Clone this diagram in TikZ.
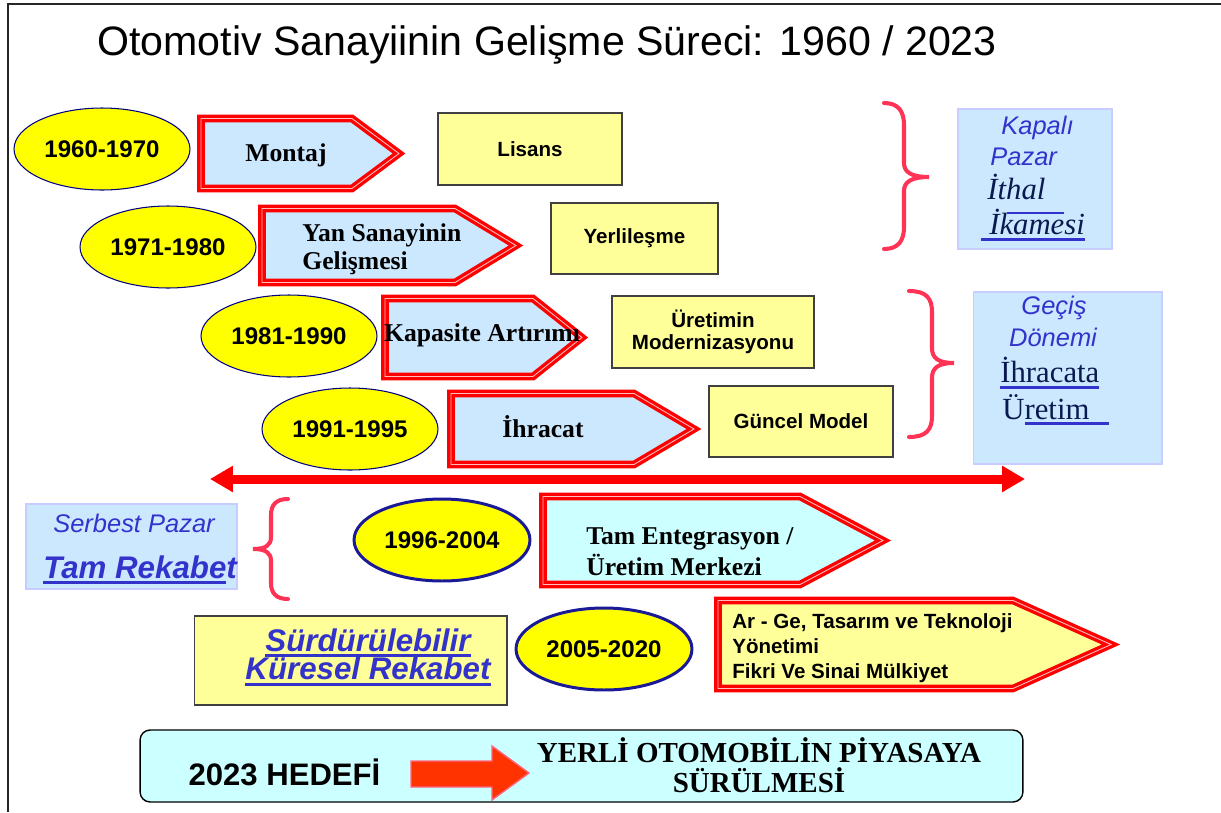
\documentclass[tikz,border=0pt]{standalone}
\usepackage{fontspec}
\setmainfont{Liberation Sans}
\newfontfamily\timesf{Liberation Serif}
\usetikzlibrary{shapes.geometric,arrows.meta}

\definecolor{boxyellow}{HTML}{FFFF99}
\definecolor{ellyellow}{HTML}{FFFF00}
\definecolor{lightblue}{HTML}{CCE8FF}
\definecolor{paleborder}{HTML}{C8CCFF}
\definecolor{cyanfill}{HTML}{CCFFFF}
\definecolor{navyline}{HTML}{000080}
\definecolor{ringblue}{HTML}{1A1A99}
\definecolor{textblue}{HTML}{3333CC}
\definecolor{deepnavy}{HTML}{0A1A50}
\definecolor{bracered}{HTML}{FF3355}
\definecolor{arrowred}{HTML}{FF3300}
\definecolor{arrowpink}{HTML}{FF6680}

% underline in blue, as in the slide
\newcommand\ulin[1]{\setbox0\hbox{#1}\makebox[0pt][l]{\textcolor{textblue}{\rule[-3.2pt]{\wd0}{1.7pt}}}\box0}

\begin{document}
\begin{tikzpicture}[x=0.02cm,y=-0.02cm,
    yearell/.style={ellipse,draw=navyline,line width=0.6pt,fill=ellyellow,
      minimum width=3.52cm,minimum height=1.64cm,inner sep=0pt,
      font=\fontsize{13.7}{16}\selectfont\bfseries},
    yearellthick/.style={yearell,draw=ringblue,line width=1.7pt},
    yellowbox/.style={draw=black!75,line width=0.6pt,fill=boxyellow,inner sep=0pt,
      align=center,font=\fontsize{11.7}{12.5}\selectfont\bfseries},
    bluebox/.style={draw=paleborder,line width=0.6pt,fill=lightblue,inner sep=0pt},
    pent/.style={draw=red,line width=1.9pt,double=white!75!red,double distance=0.5pt,line join=miter},
    arrowtext/.style={inner sep=0pt,align=left,font=\timesf\fontsize{14.6}{15.9}\selectfont\bfseries},
    markettext/.style={inner sep=0pt,text=textblue,font=\fontsize{14.5}{17}\selectfont\itshape},
    policytext/.style={inner sep=0pt,text=deepnavy,font=\timesf\fontsize{17.5}{20}\selectfont},
    rekabet/.style={inner sep=0pt,text=textblue,font=\fontsize{17.8}{16.4}\selectfont\bfseries\itshape},
    curly/.style={draw=bracered,line width=2.3pt,line cap=round},
    bigarrow/.style={draw=red,line width=0.18cm,
      {Triangle[length=0.46cm,width=0.5cm]}-{Triangle[length=0.46cm,width=0.5cm]}}]

  \useasboundingbox (0,0) rectangle (1221,812);
  \draw[line width=1.2pt,black!85] (8,812) -- (8,4) -- (1221,4);

  \node[inner sep=0pt,font=\fontsize{23.4}{28}\selectfont] (title) at (547,45)
    {Otomotiv Sanayiinin Gelişme Süreci: 1960 / 2023};

  %% periods
  \node[yearell] (y1960) at (102,149) {1960-1970};
  \node[yearell] (y1971) at (168,247) {1971-1980};
  \node[yearell] (y1981) at (289,336) {1981-1990};
  \node[yearell] (y1991) at (350,429) {1991-1995};
  \node[yearellthick] (y1996) at (442,540) {1996-2004};
  \node[yearellthick] (y2005) at (604,649) {2005-2020};

  %% arrows
  \draw[pent,fill=lightblue] (201,118.5) -- (352,118.5) -- (399,153.5) -- (352,188.5) -- (201,188.5) -- cycle;
  \draw[pent,fill=lightblue] (262,208.5) -- (455,208.5) -- (516,245.5) -- (455,282.5) -- (262,282.5) -- cycle;
  \draw[pent,fill=lightblue] (385,298.5) -- (533,298.5) -- (582,337.5) -- (533,376.5) -- (385,376.5) -- cycle;
  \draw[pent,fill=lightblue] (451,393.5) -- (634,393.5) -- (694,429) -- (634,464.5) -- (451,464.5) -- cycle;
  \draw[pent,fill=cyanfill] (543,496.5) -- (800,496.5) -- (883,540.5) -- (800,584.5) -- (543,584.5) -- cycle;
  \draw[pent,fill=boxyellow] (718,600.5) -- (1013,600.5) -- (1111,644.5) -- (1013,688.5) -- (718,688.5) -- cycle;

  \node[arrowtext] (montaj) at (286,155) {Montaj};
  \node[arrowtext,anchor=west] (yansanayi) at (302,249) {Yan Sanayinin\\Gelişmesi};
  \node[arrowtext] (kapasite) at (482,335) {Kapasite Artırımı};
  \node[arrowtext] (ihracat) at (543,427) {İhracat};
  \node[arrowtext,anchor=west,font=\timesf\fontsize{14.6}{17.6}\selectfont\bfseries] (entegrasyon) at (586,552)
    {Tam Entegrasyon /\\Üretim Merkezi};
  \node[inner sep=0pt,anchor=west,align=left,font=\fontsize{11.7}{14.2}\selectfont\bfseries] (arge) at (732,648)
    {Ar - Ge, Tasarım ve Teknoloji\\Yönetimi\\Fikri Ve Sinai Mülkiyet};

  %% results
  \node[yellowbox,minimum width=3.68cm,minimum height=1.44cm] (lisans) at (530,149) {Lisans};
  \node[yellowbox,minimum width=3.34cm,minimum height=1.42cm] (yerli) at (634.5,238.5) {Yerlileşme};
  \node[yellowbox,minimum width=4.04cm,minimum height=1.44cm] (modern) at (713,332) {Üretimin\\Modernizasyonu};
  \node[yellowbox,minimum width=3.68cm,minimum height=1.42cm] (guncel) at (801,421.5) {Güncel Model};

  %% market phases
  \node[bluebox,minimum width=3.08cm,minimum height=2.8cm] (kapali) at (1035,179) {};
  \node[markettext,anchor=west] (kapali1) at (1001,128) {Kapalı};
  \node[markettext,anchor=west] (kapali2) at (990,157) {Pazar};
  \node[policytext,anchor=west,font=\timesf\fontsize{17.5}{20}\selectfont\itshape] (ithal1) at (987,187) {İthal};
  \node[policytext,anchor=west,font=\timesf\fontsize{17.5}{20}\selectfont\itshape] (ithal2) at (981,225) {\ulin{\hspace{4.5pt}İkamesi}};
  \draw[textblue,line width=1.7pt] (1007,213) -- (1064,213);

  \node[bluebox,minimum width=3.78cm,minimum height=3.44cm] (gecis) at (1067.5,378) {};
  \node[markettext] (gecis1) at (1054,308) {Geçiş};
  \node[markettext] (gecis2) at (1053,337) {Dönemi};
  \node[policytext,anchor=west] (gecis3) at (1000,373) {\ulin{İhracata}};
  \node[policytext,anchor=west] (gecis4) at (1002,410) {Ü\ulin{retim\hspace{11pt}}};

  \node[bluebox,minimum width=4.22cm,minimum height=1.7cm] (serbest) at (131.5,546.5) {};
  \node[markettext] (serbest1) at (134,523) {Serbest Pazar};
  \node[rekabet,anchor=west] (serbest2) at (43,570) {\ulin{Tam Rekabe}t};

  \node[yellowbox,minimum width=6.26cm,minimum height=1.78cm] (surbox) at (350.5,660.5) {};
  \node[rekabet,align=center] (surtext) at (368,657) {\ulin{Sürdürülebilir}\\\ulin{Küresel Rekabet}};

  %% braces
  \draw[curly] (884,103) .. controls (898,103) and (904,111) .. (904,125) -- (904,163)
    .. controls (904,172) and (911,177) .. (929,177) .. controls (911,177) and (904,182) .. (904,191)
    -- (904,227) .. controls (904,241) and (898,249) .. (884,249);
  \draw[curly] (909,291) .. controls (926,291) and (932,298) .. (932,312) -- (932,348)
    .. controls (932,358) and (938,363) .. (954,363) .. controls (938,363) and (932,368) .. (932,378)
    -- (932,416) .. controls (932,430) and (926,437) .. (909,437);
  \draw[curly] (288,499) .. controls (276,499) and (271,505) .. (271,515) -- (271,537)
    .. controls (271,545) and (266,549) .. (253,549) .. controls (266,549) and (271,553) .. (271,561)
    -- (271,583) .. controls (271,593) and (276,599) .. (288,599);

  %% divider
  \coordinate (divleft) at (210,479);
  \coordinate (divright) at (1025,479);
  \draw[bigarrow] (divleft) -- (divright);

  %% 2023 target
  \node[draw=black,line width=0.8pt,fill=cyanfill,rounded corners=0.2cm,
    minimum width=17.66cm,minimum height=1.44cm] (hedefbox) at (581.5,766) {};
  \node[inner sep=0pt,font=\fontsize{17.7}{20}\selectfont\bfseries] (hedef) at (284.5,772) {2023 HEDEFİ};
  \draw[draw=arrowpink,line width=0.8pt,fill=arrowred] (411,761) -- (492,761) -- (492,746)
    -- (529,773) -- (492,800) -- (492,787) -- (411,787) -- cycle;
  \node[inner sep=0pt,align=center,font=\timesf\fontsize{16.5}{17}\selectfont\bfseries] (yerliotomobil) at (759,765)
    {YERLİ OTOMOBİLİN PİYASAYA\\SÜRÜLMESİ};
\end{tikzpicture}
\end{document}
